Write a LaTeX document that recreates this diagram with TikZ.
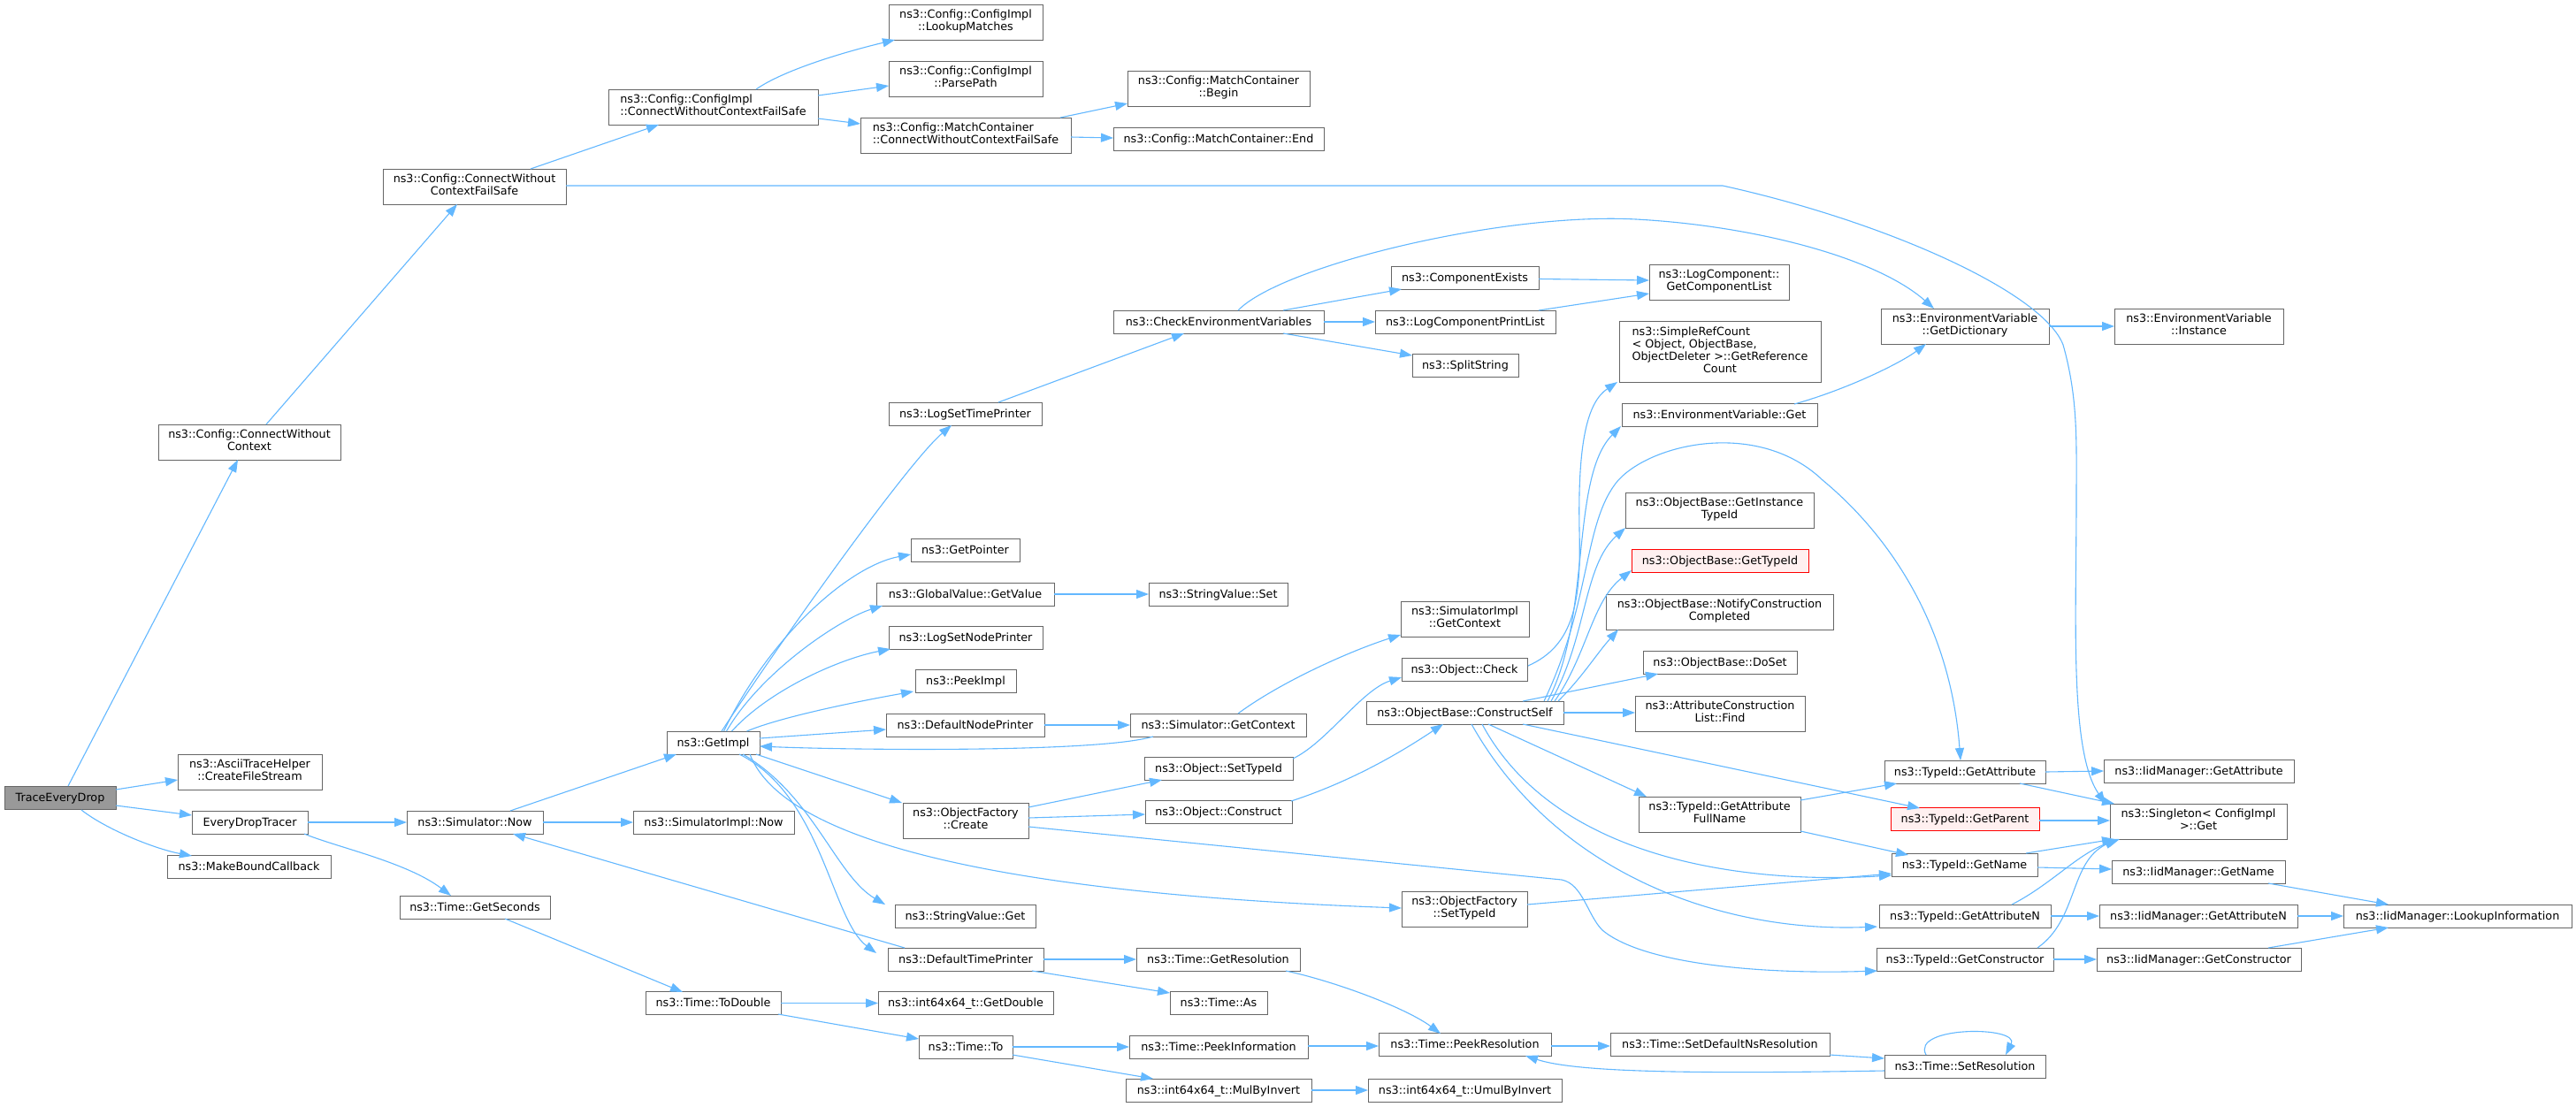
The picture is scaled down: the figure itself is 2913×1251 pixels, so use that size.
\documentclass[tikz,border=0pt]{standalone}
\usepackage{fontspec}
\setmainfont{DejaVu Sans}
\usetikzlibrary{arrows.meta}
\definecolor{edgec}{HTML}{63B8FF}
\definecolor{bord}{HTML}{666666}
\definecolor{rootf}{HTML}{999999}
\definecolor{redb}{HTML}{FF0000}
\definecolor{redf}{HTML}{FFF0F0}
\newcommand{\lbltwo}[2]{\begin{tabular}{@{}l@{}}#1\\\multicolumn{1}{@{}c@{}}{#2}\end{tabular}}
\newcommand{\lblfour}[4]{\begin{tabular}{@{}l@{}}#1\\#2\\#3\\\multicolumn{1}{@{}c@{}}{#4}\end{tabular}}
\tikzset{
  basebox/.style={draw=bord, fill=white, line width=1pt, inner sep=0pt, minimum height=26pt,
    font=\fontsize{12.75pt}{14pt}\selectfont},
  b/.style={basebox, text height=11pt, text depth=2.6pt},
  bb/.style={basebox, minimum height=40pt},
  rootbox/.style={fill=rootf},
  redbox/.style={draw=redb, fill=redf},
  e/.style={draw=edgec, line width=1.1pt, -{Triangle[length=14pt,width=10pt]}, fill=none}
}
\begin{document}
\begin{tikzpicture}[x=1pt,y=-1pt]
\fill[white] (0,0) rectangle (2913,1251);
\useasboundingbox (0,0) rectangle (2913,1251);
% ---- nodes ----
\node[b,rootbox,minimum width=126pt] (ted) at (68,902) {TraceEveryDrop};
\node[bb,minimum width=163pt] (ascii) at (282.5,873) {\lbltwo{ns3::AsciiTraceHelper}{::CreateFileStream}};
\node[b,minimum width=131pt] (edt) at (282.5,930) {EveryDropTracer};
\node[b,minimum width=185pt] (mbc) at (281.5,980) {ns3::MakeBoundCallback};
\node[bb,minimum width=206pt] (cwc) at (282,500) {\lbltwo{ns3::Config::ConnectWithout}{Context}};
\node[bb,minimum width=207pt] (cwcfs) at (536.5,211) {\lbltwo{ns3::Config::ConnectWithout}{ContextFailSafe}};
\node[b,minimum width=154pt] (simnow) at (537,930) {ns3::Simulator::Now};
\node[b,minimum width=170pt] (gsec) at (537,1026) {ns3::Time::GetSeconds};
\node[bb,minimum width=237pt] (cicw) at (806.5,121) {\lbltwo{ns3::Config::ConfigImpl}{::ConnectWithoutContextFailSafe}};
\node[b,minimum width=105pt] (getimpl) at (806.5,840) {ns3::GetImpl};
\node[b,minimum width=182pt] (simimplnow) at (807,930) {ns3::SimulatorImpl::Now};
\node[b,minimum width=153pt] (todouble) at (806.5,1134.5) {ns3::Time::ToDouble};
\node[bb,minimum width=174pt] (lookup) at (1092,25) {\lbltwo{ns3::Config::ConfigImpl}{::LookupMatches}};
\node[bb,minimum width=174pt] (parse) at (1092,89) {\lbltwo{ns3::Config::ConfigImpl}{::ParsePath}};
\node[bb,minimum width=238pt] (mccw) at (1092,153) {\lbltwo{ns3::Config::MatchContainer}{::ConnectWithoutContextFailSafe}};
\node[b,minimum width=173pt] (lstp) at (1091.5,468) {ns3::LogSetTimePrinter};
\node[b,minimum width=123pt] (getptr) at (1091.5,622) {ns3::GetPointer};
\node[b,minimum width=201pt] (gvget) at (1091.5,672) {ns3::GlobalValue::GetValue};
\node[b,minimum width=174pt] (lsnp) at (1092,721) {ns3::LogSetNodePrinter};
\node[b,minimum width=114pt] (peekimpl) at (1092,770.5) {ns3::PeekImpl};
\node[b,minimum width=179pt] (dnp) at (1091.5,820) {ns3::DefaultNodePrinter};
\node[bb,minimum width=142pt] (ofcreate) at (1092,928) {\lbltwo{ns3::ObjectFactory}{::Create}};
\node[b,minimum width=159pt] (svget) at (1091.5,1036) {ns3::StringValue::Get};
\node[b,minimum width=176pt] (dtp) at (1092,1085) {ns3::DefaultTimePrinter};
\node[b,minimum width=198pt] (getdouble) at (1092,1134.5) {ns3::int64x64\_t::GetDouble};
\node[b,minimum width=106pt] (timeto) at (1092,1184) {ns3::Time::To};
\node[bb,minimum width=206pt] (mcbegin) at (1378,100) {\lbltwo{ns3::Config::MatchContainer}{::Begin}};
\node[b,minimum width=238pt] (mcend) at (1378,157) {ns3::Config::MatchContainer::End};
\node[b,minimum width=238pt] (cev) at (1378,364) {ns3::CheckEnvironmentVariables};
\node[b,minimum width=157pt] (svset) at (1377.5,672) {ns3::StringValue::Set};
\node[b,minimum width=199pt] (simgetctx) at (1377.5,820) {ns3::Simulator::GetContext};
\node[b,minimum width=168pt] (objsettid) at (1378,869) {ns3::Object::SetTypeId};
\node[b,minimum width=166pt] (objconstruct) at (1378,918) {ns3::Object::Construct};
\node[b,minimum width=185pt] (getres) at (1377.5,1085) {ns3::Time::GetResolution};
\node[b,minimum width=110pt] (timeas) at (1378,1134.5) {ns3::Time::As};
\node[b,minimum width=202pt] (peekinfo) at (1378,1184) {ns3::Time::PeekInformation};
\node[b,minimum width=210pt] (mulinv) at (1378,1233) {ns3::int64x64\_t::MulByInvert};
\node[b,minimum width=167pt] (compexists) at (1656.5,314.5) {ns3::ComponentExists};
\node[b,minimum width=204pt] (lcpl) at (1657,364) {ns3::LogComponentPrintList};
\node[b,minimum width=120pt] (split) at (1657,413) {ns3::SplitString};
\node[bb,minimum width=145pt] (simimplctx) at (1656.5,700) {\lbltwo{ns3::SimulatorImpl}{::GetContext}};
\node[b,minimum width=142pt] (objcheck) at (1656,757) {ns3::Object::Check};
\node[b,minimum width=223pt] (constructself) at (1656.5,806) {ns3::ObjectBase::ConstructSelf};
\node[bb,minimum width=142pt] (ofsettid) at (1656,1028) {\lbltwo{ns3::ObjectFactory}{::SetTypeId}};
\node[b,minimum width=195pt] (peekres) at (1656.5,1181.5) {ns3::Time::PeekResolution};
\node[b,minimum width=219pt] (umul) at (1656.5,1233) {ns3::int64x64\_t::UmulByInvert};
\node[bb,minimum width=158pt] (getcomplist) at (1944,319) {\lbltwo{ns3::LogComponent::}{GetComponentList}};
\node[basebox,minimum width=228pt,minimum height=69pt] (simpleref) at (1945,397.5) {\lblfour{ns3::SimpleRefCount}{< Object, ObjectBase,}{ObjectDeleter >::GetReference}{Count}};
\node[b,minimum width=221pt] (envget) at (1944.5,469.5) {ns3::EnvironmentVariable::Get};
\node[bb,minimum width=213pt] (instancetid) at (1944.5,577) {\lbltwo{ns3::ObjectBase::GetInstance}{TypeId}};
\node[b,redbox,minimum width=200pt] (objgettid) at (1945,634) {ns3::ObjectBase::GetTypeId};
\node[bb,minimum width=257pt] (notify) at (1944.5,692) {\lbltwo{ns3::ObjectBase::NotifyConstruction}{Completed}};
\node[b,minimum width=174pt] (doset) at (1945,749) {ns3::ObjectBase::DoSet};
\node[bb,minimum width=192pt] (acfind) at (1945,807) {\lbltwo{ns3::AttributeConstruction}{List::Find}};
\node[bb,minimum width=183pt] (gafullname) at (1944.5,921) {\lbltwo{ns3::TypeId::GetAttribute}{FullName}};
\node[b,minimum width=248pt] (setdefns) at (1945,1181.5) {ns3::Time::SetDefaultNsResolution};
\node[bb,minimum width=190pt] (getdict) at (2222,369) {\lbltwo{ns3::EnvironmentVariable}{::GetDictionary}};
\node[b,minimum width=182pt] (tidgetattr) at (2222,873) {ns3::TypeId::GetAttribute};
\node[b,redbox,minimum width=168pt] (tidgetparent) at (2222,926.5) {ns3::TypeId::GetParent};
\node[b,minimum width=165pt] (tidgetname) at (2221.5,978) {ns3::TypeId::GetName};
\node[b,minimum width=194pt] (tidgetattrn) at (2222,1036) {ns3::TypeId::GetAttributeN};
\node[b,minimum width=200pt] (tidgetctor) at (2222,1085) {ns3::TypeId::GetConstructor};
\node[b,minimum width=182pt] (setres) at (2222,1206) {ns3::Time::SetResolution};
\node[bb,minimum width=191pt] (instance) at (2486.5,369) {\lbltwo{ns3::EnvironmentVariable}{::Instance}};
\node[b,minimum width=215pt] (iidgetattr) at (2486.5,872) {ns3::IidManager::GetAttribute};
\node[bb,minimum width=200pt] (singleton) at (2486,929) {\lbltwo{ns3::Singleton< ConfigImpl}{>::Get}};
\node[b,minimum width=196pt] (iidgetname) at (2486,986) {ns3::IidManager::GetName};
\node[b,minimum width=224pt] (iidgetattrn) at (2486,1036) {ns3::IidManager::GetAttributeN};
\node[b,minimum width=231pt] (iidgetctor) at (2486.5,1085) {ns3::IidManager::GetConstructor};
\node[b,minimum width=258pt] (lookupinfo) at (2779,1036) {ns3::IidManager::LookupInformation};
% ---- edges ----
\draw[e] ([shift={(9,-13)}]ted.center) -- ([shift={(-13,20)}]cwc.center);
\draw[e] ([shift={(63,-9)}]ted.center) -- ([shift={(-81.5,9)}]ascii.center);
\draw[e] ([shift={(63,9)}]ted.center) -- ([shift={(-65.5,-8)}]edt.center);
\draw[e] ([shift={(24,14)}]ted.center) .. controls (120,938) and (175,960) .. ([shift={(-64.5,-12)}]mbc.center);
\draw[e] ([shift={(19,-20)}]cwc.center) -- ([shift={(-19.5,20)}]cwcfs.center);
\draw[e] ([shift={(63.5,-20)}]cwcfs.center) -- ([shift={(-61.5,20)}]cicw.center);
\draw[e] ([shift={(103.5,-1)}]cwcfs.center) -- (1948,210) .. controls (2130,250) and (2310,330) .. (2333,390) .. controls (2350,450) and (2348,500) .. (2348,560) .. controls (2348,700) and (2340,850) .. ([shift={(-105,-20)}]singleton.center);
\draw[e] ([shift={(48.5,-20)}]cicw.center) .. controls (885,80) and (950,60) .. ([shift={(-80,20)}]lookup.center);
\draw[e] ([shift={(118.5,-13)}]cicw.center) -- ([shift={(-87,8)}]parse.center);
\draw[e] ([shift={(118.5,13)}]cicw.center) -- ([shift={(-119,-13)}]mccw.center);
\draw[e] ([shift={(107,-20)}]mccw.center) -- ([shift={(-103,17)}]mcbegin.center);
\draw[e] ([shift={(119,2)}]mccw.center) -- ([shift={(-119,-1)}]mcend.center);
\draw[e] ([shift={(9.5,-13)}]getimpl.center) .. controls (900,700) and (1030,520) .. ([shift={(-15.5,13)}]lstp.center);
\draw[e] ([shift={(12,-13)}]getimpl.center) .. controls (870,720) and (960,640) .. ([shift={(-61.5,5)}]getptr.center);
\draw[e] ([shift={(15,-13)}]getimpl.center) .. controls (860,760) and (950,700) .. ([shift={(-93.5,13)}]gvget.center);
\draw[e] ([shift={(21,-13)}]getimpl.center) .. controls (870,780) and (950,745) .. ([shift={(-85,13)}]lsnp.center);
\draw[e] ([shift={(38,-13)}]getimpl.center) .. controls (880,812) and (960,795) .. ([shift={(-59,11.5)}]peekimpl.center);
\draw[e] ([shift={(52.5,-5)}]getimpl.center) -- ([shift={(-89.5,5)}]dnp.center);
\draw[e] ([shift={(-73.5,13)}]simgetctx.center) .. controls (1240,852) and (950,848) .. ([shift={(52.5,4)}]getimpl.center);
\draw[e] ([shift={(89.5,0)}]dnp.center) -- ([shift={(-99.5,0)}]simgetctx.center);
\draw[e] ([shift={(22.5,-13)}]simgetctx.center) .. controls (1450,770) and (1530,735) .. ([shift={(-72.5,18)}]simimplctx.center);
\draw[e] ([shift={(48.5,13)}]getimpl.center) -- ([shift={(-72,-20)}]ofcreate.center);
\draw[e] ([shift={(33.5,13)}]getimpl.center) .. controls (920,900) and (945,990) .. ([shift={(-90.5,-13)}]svget.center);
\draw[e] ([shift={(29.5,13)}]getimpl.center) .. controls (930,900) and (940,1040) .. ([shift={(-101,-7)}]dtp.center);
\draw[e] ([shift={(41.5,13)}]getimpl.center) .. controls (895,975) and (1250,1015) .. ([shift={(-71,-1)}]ofsettid.center);
\draw[e] ([shift={(88,0)}]dtp.center) -- ([shift={(-92.5,0)}]getres.center);
\draw[e] ([shift={(75,13)}]dtp.center) -- ([shift={(-55,-11.5)}]timeas.center);
\draw[e] ([shift={(76.5,13)}]getres.center) .. controls (1510,1110) and (1590,1140) .. ([shift={(-27.5,-12.5)}]peekres.center);
\draw[e] ([shift={(101,-1)}]peekinfo.center) -- ([shift={(-97.5,1.5)}]peekres.center);
\draw[e] ([shift={(53,0)}]timeto.center) -- ([shift={(-101,0)}]peekinfo.center);
\draw[e] ([shift={(53,9)}]timeto.center) -- ([shift={(-74,-13)}]mulinv.center);
\draw[e] ([shift={(105,0)}]mulinv.center) -- ([shift={(-109.5,0)}]umul.center);
\draw[e] ([shift={(76.5,0)}]todouble.center) -- ([shift={(-99,0)}]getdouble.center);
\draw[e] ([shift={(73.5,12.5)}]todouble.center) -- ([shift={(-53,-9)}]timeto.center);
\draw[e] ([shift={(34,13)}]gsec.center) -- ([shift={(-34.5,-12.5)}]todouble.center);
\draw[e] ([shift={(65.5,0)}]edt.center) -- ([shift={(-77,0)}]simnow.center);
\draw[e] ([shift={(61.5,13)}]edt.center) .. controls (380,958) and (460,975) .. ([shift={(-27,-13)}]gsec.center);
\draw[e] ([shift={(77,0)}]simnow.center) -- ([shift={(-91,0)}]simimplnow.center);
\draw[e] ([shift={(40,-13)}]simnow.center) -- ([shift={(-41.5,13)}]getimpl.center);
\draw[e] ([shift={(-69,-13)}]dtp.center) -- ([shift={(43,13)}]simnow.center);
\draw[e] ([shift={(97.5,1.5)}]peekres.center) -- ([shift={(-124,1.5)}]setdefns.center);
\draw[e] ([shift={(124,11.5)}]setdefns.center) -- ([shift={(-91,-9)}]setres.center);
\draw[e] ([shift={(-91,5)}]setres.center) .. controls (1900,1215) and (1780,1212) .. ([shift={(68.5,12.5)}]peekres.center);
\draw[e] ([shift={(-44,-13)}]setres.center) .. controls (2160,1160) and (2285,1160) .. ([shift={(46,-13)}]setres.center);
\draw[e] ([shift={(71,-15)}]ofcreate.center) -- ([shift={(-64,13)}]objsettid.center);
\draw[e] ([shift={(71,-3)}]ofcreate.center) -- ([shift={(-83,3)}]objconstruct.center);
\draw[e] ([shift={(71,7)}]ofcreate.center) -- (1766,995) .. controls (1790,1000) and (1795,1035) .. (1812,1052) .. controls (1860,1092) and (2000,1102) .. ([shift={(-99,13)}]tidgetctor.center);
\draw[e] ([shift={(84,-11)}]objsettid.center) .. controls (1500,840) and (1540,780) .. ([shift={(-71,9)}]objcheck.center);
\draw[e] ([shift={(82,-12)}]objconstruct.center) .. controls (1540,880) and (1600,840) .. ([shift={(-24.5,13)}]constructself.center);
\draw[e] ([shift={(72,-4)}]objcheck.center) .. controls (1780,730) and (1788,680) .. (1786,600) .. controls (1784,500) and (1795,455) .. ([shift={(-116,34.5)}]simpleref.center);
\draw[e] ([shift={(93.5,-13)}]constructself.center) .. controls (1800,700) and (1775,540) .. ([shift={(-111.5,12.5)}]envget.center);
\draw[e] ([shift={(97.5,-13)}]constructself.center) .. controls (1795,720) and (1790,640) .. ([shift={(-106.5,20)}]instancetid.center);
\draw[e] ([shift={(101.5,-13)}]constructself.center) .. controls (1795,740) and (1800,680) .. ([shift={(-100,11)}]objgettid.center);
\draw[e] ([shift={(105.5,-13)}]constructself.center) .. controls (1790,765) and (1805,740) .. ([shift={(-114.5,20)}]notify.center);
\draw[e] ([shift={(65.5,-13)}]constructself.center) -- ([shift={(-70,13)}]doset.center);
\draw[e] ([shift={(111.5,0)}]constructself.center) -- ([shift={(-96,-1)}]acfind.center);
\draw[e] ([shift={(89.5,-13)}]constructself.center) .. controls (1800,680) and (1790,590) .. (1830,543) .. controls (1870,500) and (1990,475) .. (2061,543) .. controls (2130,600) and (2205,700) .. ([shift={(-5,-13)}]tidgetattr.center);
\draw[e] ([shift={(26.5,13)}]constructself.center) -- ([shift={(-82.5,-20)}]gafullname.center);
\draw[e] ([shift={(65.5,13)}]constructself.center) -- ([shift={(-51,-12.5)}]tidgetparent.center);
\draw[e] ([shift={(19.5,13)}]constructself.center) .. controls (1760,975) and (1980,1000) .. ([shift={(-82.5,12)}]tidgetname.center);
\draw[e] ([shift={(7.5,13)}]constructself.center) .. controls (1760,990) and (1950,1055) .. ([shift={(-99,12)}]tidgetattrn.center);
\draw[e] ([shift={(71,-5)}]ofsettid.center) -- ([shift={(-82.5,10)}]tidgetname.center);
\draw[e] ([shift={(91.5,19)}]gafullname.center) -- ([shift={(-63.5,-11)}]tidgetname.center);
\draw[e] ([shift={(91.5,-16)}]gafullname.center) -- ([shift={(-77,13)}]tidgetattr.center);
\draw[e] ([shift={(62,13)}]tidgetattr.center) -- ([shift={(-95,-20)}]singleton.center);
\draw[e] ([shift={(84,1.5)}]tidgetparent.center) -- ([shift={(-100,-1)}]singleton.center);
\draw[e] ([shift={(69.5,-13)}]tidgetname.center) -- ([shift={(-95,20)}]singleton.center);
\draw[e] ([shift={(53,-13)}]tidgetattrn.center) .. controls (2320,1000) and (2350,965) .. ([shift={(-89,20)}]singleton.center);
\draw[e] ([shift={(82,-13)}]tidgetctor.center) .. controls (2350,1040) and (2340,975) .. ([shift={(-92,20)}]singleton.center);
\draw[e] ([shift={(91,0)}]tidgetattr.center) -- ([shift={(-107.5,0)}]iidgetattr.center);
\draw[e] ([shift={(82.5,3)}]tidgetname.center) -- ([shift={(-98,-3)}]iidgetname.center);
\draw[e] ([shift={(97,0)}]tidgetattrn.center) -- ([shift={(-112,0)}]iidgetattrn.center);
\draw[e] ([shift={(100,0)}]tidgetctor.center) -- ([shift={(-115.5,0)}]iidgetctor.center);
\draw[e] ([shift={(79,13)}]iidgetname.center) -- ([shift={(-78,-13)}]lookupinfo.center);
\draw[e] ([shift={(112,0)}]iidgetattrn.center) -- ([shift={(-129,0)}]lookupinfo.center);
\draw[e] ([shift={(78.5,-13)}]iidgetctor.center) -- ([shift={(-78,13)}]lookupinfo.center);
\draw[e] ([shift={(37.5,-13)}]lstp.center) -- ([shift={(-39,13)}]cev.center);
\draw[e] ([shift={(73,-13)}]cev.center) -- ([shift={(-71.5,12.5)}]compexists.center);
\draw[e] ([shift={(119,0)}]cev.center) -- ([shift={(-102,0)}]lcpl.center);
\draw[e] ([shift={(73,13)}]cev.center) -- ([shift={(-60,-11)}]split.center);
\draw[e] ([shift={(22,-13)}]cev.center) .. controls (1450,300) and (1700,240) .. (1850,248) .. controls (1980,255) and (2120,290) .. ([shift={(-35,-20)}]getdict.center);
\draw[e] ([shift={(83.5,1)}]compexists.center) -- ([shift={(-79,-2)}]getcomplist.center);
\draw[e] ([shift={(83,-13)}]lcpl.center) -- ([shift={(-79,13)}]getcomplist.center);
\draw[e] ([shift={(95,0)}]getdict.center) -- ([shift={(-95.5,0)}]instance.center);
\draw[e] ([shift={(84.5,-12.5)}]envget.center) .. controls (2090,440) and (2150,410) .. ([shift={(-44,20)}]getdict.center);
\draw[e] ([shift={(100.5,0)}]gvget.center) -- ([shift={(-78.5,0)}]svset.center);
\end{tikzpicture}
\end{document}
